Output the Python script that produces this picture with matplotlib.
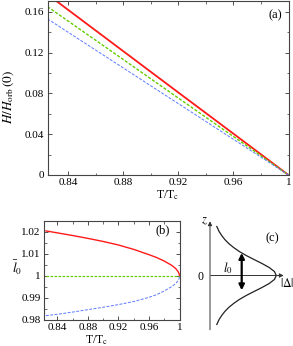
import numpy as np
import matplotlib
matplotlib.use('Agg')
import matplotlib.pyplot as plt
from matplotlib.ticker import MultipleLocator

plt.rcParams['font.family'] = 'Liberation Serif'
plt.rcParams['mathtext.fontset'] = 'stix'
plt.rcParams['font.size'] = 8

#* (a) field vs temperature
T_a = [0.825, 0.85, 0.875, 0.90, 0.925, 0.95, 0.975, 1.0]
H_red = [0.1770, 0.1517, 0.1264, 0.1011, 0.0758, 0.0506, 0.0253, 0.0]
H_green = [0.1650, 0.1414, 0.1179, 0.0943, 0.0707, 0.0471, 0.0236, 0.0]
H_blue = [0.1530, 0.1311, 0.1093, 0.0874, 0.0656, 0.0437, 0.0219, 0.0]

#* (b) l0 vs temperature
T_b = [0.825, 0.84, 0.86, 0.88, 0.90, 0.92, 0.94, 0.96, 0.97, 0.98, 0.99, 0.995, 0.998, 0.9995, 1.0]
l_red = [1.0205, 1.0196, 1.0184, 1.0171, 1.0157, 1.0141, 1.0121, 1.0097, 1.0084, 1.0068, 1.0048, 1.0034, 1.0021, 1.0010, 1.0]
l_green = [1.0] * len(T_b)
l_blue = [0.9820, 0.9826, 0.9836, 0.9847, 0.9858, 0.9870, 0.9884, 0.9903, 0.9915, 0.9932, 0.9952, 0.9966, 0.9978, 0.9989, 1.0]

#* (c) schematic profile |Delta|(z)
z_c = [-49, -44, -40, -36, -32, -28, -24, -20, -16, -12, -8, -4, 0, 4, 8, 12, 16, 20, 24, 28, 32, 36, 40, 44, 49]
d_c = [6.8, 9.1, 11.7, 14.8, 18.7, 23.6, 29.3, 36.2, 44.0, 52.0, 59.2, 64.4, 66.3,
       64.4, 59.2, 52.0, 44.0, 36.2, 29.3, 23.6, 18.7, 14.8, 11.7, 9.1, 6.8]

RED = '#ff1a1a'
GREEN = '#66cc00'
BLUE = '#5a78ff'
W, H = 293, 346

def style(ax):
    ax.tick_params(which='both', direction='in', top=True, right=True, colors='#333333',
                   labelcolor='black', pad=2.5)
    ax.tick_params(which='major', length=3.2, width=0.6)
    ax.tick_params(which='minor', length=1.8, width=0.5)
    for s in ax.spines.values():
        s.set_linewidth(0.8)
        s.set_color('#444444')

def pxtext(x, y, s, **kw):
    #* text centred at a pixel position (from top-left)
    fig.text(x / W, 1 - y / H, s, ha='center', va='center', **kw)

fig = plt.figure(figsize=(W / 100, H / 100), dpi=100)

#! panel (a)
axa = fig.add_axes([47.5 / W, (H - 175) / H, 241 / W, 174.5 / H])
axa.plot(T_a, H_red, color=RED, lw=1.3)
axa.plot(T_a, H_green, color=GREEN, lw=1.0, dashes=(2.2, 1.2))
axa.plot(T_a, H_blue, color=BLUE, lw=0.7, dashes=(3, 1.5))
axa.set_xlim(0.825, 1.0)
axa.set_ylim(0, 0.171)
axa.xaxis.set_minor_locator(MultipleLocator(0.02))
axa.yaxis.set_minor_locator(MultipleLocator(0.02))
axa.set_xticks([0.84, 0.88, 0.92, 0.96, 1.0], ['0.84', '0.88', '0.92', '0.96', '1'])
axa.set_yticks([0, 0.04, 0.08, 0.12, 0.16], ['0', '0.04', '0.08', '0.12', '0.16'])
style(axa)
pxtext(8.5, 97, r'$H/H_{\rm orb}\,(0)$', fontsize=9.5, rotation=90)
pxtext(168, 195, r'T/T$_{\rm c}$', fontsize=8.5)
pxtext(275, 15.7, '(a)', fontsize=9)

#! panel (b)
axb = fig.add_axes([44 / W, (H - 320) / H, 135.5 / W, 99 / H])
axb.plot(T_b, l_red, color=RED, lw=1.0)
axb.plot(T_b, l_green, color=GREEN, lw=0.9, dashes=(2, 1.2))
axb.plot(T_b, l_blue, color=BLUE, lw=0.7, dashes=(3, 1.5))
axb.set_xlim(0.8225, 1.0)
axb.set_ylim(0.98, 1.025)
axb.xaxis.set_minor_locator(MultipleLocator(0.02))
axb.yaxis.set_minor_locator(MultipleLocator(0.005))
axb.set_xticks([0.84, 0.88, 0.92, 0.96, 1.0], ['0.84', '0.88', '0.92', '0.96', '1'])
axb.set_yticks([0.98, 0.99, 1.0, 1.01, 1.02], ['0.98', '0.99', '1', '1.01', '1.02'])
style(axb)
pxtext(16.7, 268.3, r'$\bar{l}_0$', fontsize=9.5)
pxtext(96.7, 340, r'T/T$_{\rm c}$', fontsize=8.5)
pxtext(162.7, 230, '(b)', fontsize=9)

#! panel (c) schematic
axc = fig.add_axes([196 / W, (H - 341) / H, 97 / W, 130 / H])
axc.set_xlim(-14, 83)
axc.set_ylim(-65.5, 64.5)
axc.axis('off')
axc.plot(d_c, z_c, color='#222222', lw=0.9)
axc.annotate('', xy=(0, 57), xytext=(0, -57),
             arrowprops=dict(arrowstyle='-|>', lw=0.7, color='#333333', mutation_scale=6))
axc.annotate('', xy=(76.5, 0), xytext=(-2, 0),
             arrowprops=dict(arrowstyle='-|>', lw=0.7, color='#333333', mutation_scale=6))
axc.annotate('', xy=(31.7, 22.5), xytext=(31.7, -14.8),
             arrowprops=dict(arrowstyle='<|-|>', lw=1.6, color='black', mutation_scale=8,
                             shrinkA=0, shrinkB=0))
axc.text(-6, 54.5, '$z$', ha='center', va='center', fontsize=9)
axc.text(-10, -1, '0', ha='center', va='center', fontsize=8.5)
axc.text(77, -8, r'$|\Delta|$', ha='center', va='center', fontsize=8.5)
axc.text(62.7, 37.5, '(c)', ha='center', va='center', fontsize=9)
axc.text(17.7, 7.8, '$l_0$', ha='center', va='center', fontsize=9)

fig.savefig('out.png', dpi=100)
